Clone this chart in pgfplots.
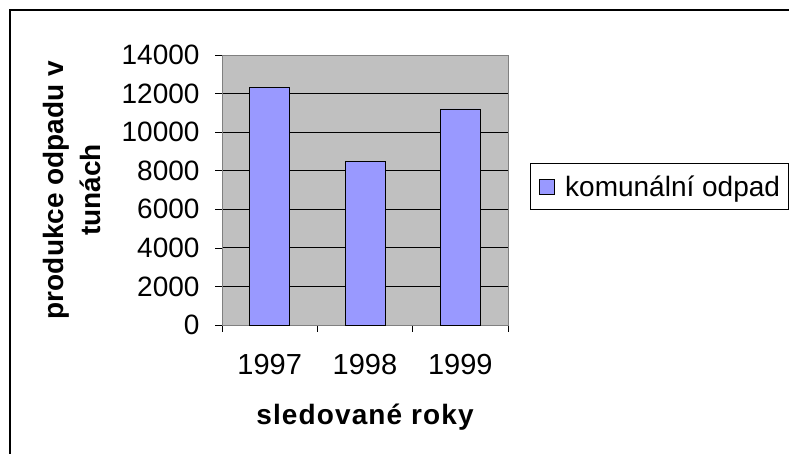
\documentclass[border=0pt]{standalone}
\usepackage{fontspec}
\setmainfont{Liberation Sans}
\usepackage{pgfplots}
\pgfplotsset{compat=1.18}
\definecolor{plotgray}{HTML}{C0C0C0}
\definecolor{barblue}{HTML}{9999FF}
\definecolor{axgray}{HTML}{808080}
\begin{document}
\begin{tikzpicture}[x=1bp,y=1bp]
\draw[line width=1.5bp] (10,-5) -- (10,444) -- (800,444);
\begin{axis}[
  at={(222bp,129bp)}, anchor=south west,
  scale only axis, width=286bp, height=270bp,
  xmin=-0.5, xmax=2.5, ymin=0, ymax=14000,
  axis background/.style={fill=plotgray},
  axis line style={draw=axgray, line width=0.8bp},
  xtick pos=bottom, ytick pos=left,
  font=\fontsize{28bp}{32bp}\selectfont,
  xtick={0,1,2}, xticklabels={1997,1998,1999},
  minor xtick={-0.5,0.5,1.5,2.5},
  x tick style={draw=none},
  minor x tick style={draw=black, line width=0.6bp},
  minor tick length=7bp,
  ytick={0,2000,...,14000},
  y tick style={draw=black, line width=0.6bp},
  major tick length=7bp,
  tick align=outside,
  ymajorgrids, major grid style={draw=black, line width=0.8bp},
  scaled y ticks=false,
  /pgf/number format/assume math mode=true,
  yticklabel style={/pgf/number format/1000 sep={}, xshift=-12bp},
  xticklabel style={yshift=-19bp, font=\fontsize{29bp}{32bp}\selectfont},
  xlabel={\addfontfeatures{LetterSpace=4}sledované roky},
  xlabel style={font=\fontsize{28bp}{32bp}\selectfont\bfseries,
    at={(axis description cs:0.5,-0.367)}, anchor=base},
  ylabel={\begin{tabular}{@{}c@{}}produkce odpadu v\\tunách\end{tabular}},
  ylabel style={font=\fontsize{28bp}{37bp}\selectfont\bfseries,
    at={(axis description cs:-0.515,0.5)}, anchor=center},
  legend style={at={(1.077,0.513)}, anchor=west, draw=black, fill=white,
    font=\fontsize{28bp}{32bp}\selectfont, inner xsep=6bp, inner ysep=10bp},
  legend image code/.code={\draw[fill=barblue,draw=black,line width=0.5bp] (3bp,-7.5bp) rectangle (18bp,7.5bp); \path[draw=none,fill=none] (0bp,0bp) -- (27bp,0bp);},
  clip=false,
]
\addplot[ybar, bar width=40bp, fill=barblue, draw=black, line width=0.6bp]
  coordinates {(0,12300) (1,8500) (2,11200)};
\addlegendentry{komunální odpad}
\end{axis}
\pgfresetboundingbox
\path[use as bounding box] (0,0) rectangle (789,454);
\end{tikzpicture}
\end{document}
